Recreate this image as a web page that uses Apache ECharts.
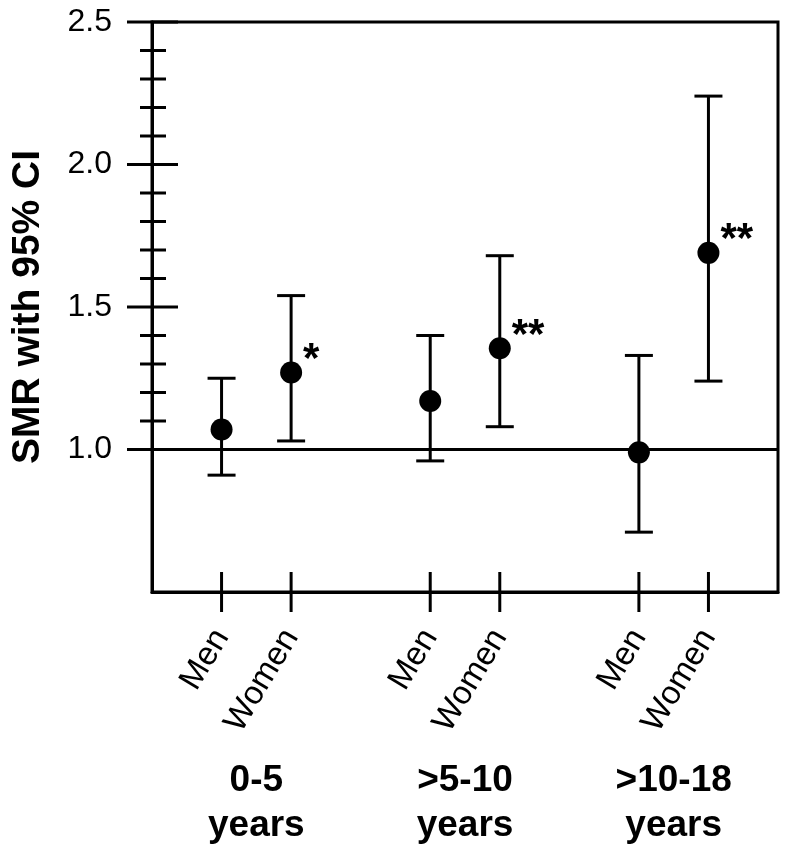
<!DOCTYPE html>
<html><head><meta charset="utf-8">
<script src="https://cdn.jsdelivr.net/npm/echarts@6/dist/echarts.min.js"></script>
<style>html,body{margin:0;padding:0;background:#fff}#c{width:790px;height:850px}</style>
</head><body><div id="c"></div>
<script>
// ---- data ----
const subgroupLabels = ['Men', 'Women', 'Men', 'Women', 'Men', 'Women'];
const xPositions = [1, 2, 4, 5, 7, 8];
const groupLabels = ['0-5\nyears', '>5-10\nyears', '>10-18\nyears'];
const groupCenters = [1.5, 4.5, 7.5];
const smr = [1.07, 1.27, 1.17, 1.355, 0.99, 1.69];
const ciLow = [0.91, 1.03, 0.96, 1.08, 0.71, 1.24];
const ciHigh = [1.25, 1.54, 1.40, 1.68, 1.33, 2.24];
const significance = ['', '*', '', '**', '', '**'];
const yTickLabels = ['1.0', '1.5', '2.0', '2.5'];
const yMajorTicks = [1.0, 1.5, 2.0, 2.5];
const yMinorTicks = [1.1, 1.2, 1.3, 1.4, 1.6, 1.7, 1.8, 1.9, 2.1, 2.2, 2.3, 2.4];
const referenceLine = 1.0;

const FONT = 'Liberation Sans, Arial, Helvetica, sans-serif';
const chart = echarts.init(document.getElementById('c'), null, {renderer: 'canvas'});

function tickSeries(data, x1, x2, y1, y2) {
  return {
    type: 'custom', silent: true, z: 5, clip: false,
    data: data,
    renderItem: function (params, api) {
      const p = api.coord([api.value(0), api.value(1)]);
      return {type: 'line', shape: {x1: p[0] + x1, y1: p[1] + y1, x2: p[0] + x2, y2: p[1] + y2},
        style: {stroke: '#000', lineWidth: 3}};
    }
  };
}

const option = {
  animation: false,
  backgroundColor: '#fff',
  grid: {left: 152, right: 12, top: 22, bottom: 258, containLabel: false, outerBoundsMode: 'none',
    show: true, borderColor: '#000', borderWidth: 3, backgroundColor: 'transparent'},
  xAxis: [{
    type: 'value', min: 0, max: 9, interval: 1,
    axisLine: {show: true, lineStyle: {color: '#000', width: 3}},
    axisTick: {show: false}, splitLine: {show: false},
    axisLabel: {
      show: true, rotate: 59, margin: 40, fontSize: 33, color: '#000', fontFamily: FONT,
      showMinLabel: true, showMaxLabel: true,
      formatter: function (v) { const i = xPositions.indexOf(v); return i >= 0 ? subgroupLabels[i] : ''; }
    }
  }, {
    type: 'value', min: 0, max: 9, interval: 1.5, position: 'bottom',
    axisLine: {show: false}, axisTick: {show: false}, splitLine: {show: false},
    axisLabel: {
      show: true, margin: 166, fontSize: 37, fontWeight: 'bold', lineHeight: 45, color: '#000', fontFamily: FONT,
      align: 'center',
      formatter: function (v) { const i = groupCenters.findIndex(c => Math.abs(c - v) < 1e-6); return i >= 0 ? groupLabels[i] : ''; }
    }
  }],
  yAxis: {
    type: 'value', min: 0.5, max: 2.5, interval: 0.5,
    axisLine: {show: true, lineStyle: {color: '#000', width: 3}},
    axisTick: {show: false}, splitLine: {show: false},
    axisLabel: {
      margin: 40, fontSize: 32, color: '#000', fontFamily: FONT,
      formatter: function (v) { const i = yMajorTicks.findIndex(t => Math.abs(t - v) < 1e-6); return i >= 0 ? yTickLabels[i] : ''; }
    },
    name: 'SMR with 95% CI', nameLocation: 'middle', nameGap: 104, nameRotate: 90,
    nameTextStyle: {fontSize: 39, fontWeight: 'bold', color: '#000', fontFamily: FONT}
  },
  series: [
    tickSeries(yMajorTicks.map(v => [0, v]), -25, 26, 0, 0),
    tickSeries(yMinorTicks.map(v => [0, v]), -12, 14, 0, 0),
    tickSeries(xPositions.map(x => [x, 0.5]), 0, 0, -20, 20),
    {
      type: 'custom', z: 6, clip: false,
      data: xPositions.map((x, i) => [x, ciLow[i], ciHigh[i]]),
      renderItem: function (params, api) {
        const lo = api.coord([api.value(0), api.value(1)]);
        const hi = api.coord([api.value(0), api.value(2)]);
        const w = 14;
        const st = {stroke: '#000', lineWidth: 3};
        return {type: 'group', children: [
          {type: 'line', shape: {x1: lo[0], y1: lo[1], x2: hi[0], y2: hi[1]}, style: st},
          {type: 'line', shape: {x1: hi[0] - w, y1: hi[1], x2: hi[0] + w, y2: hi[1]}, style: st},
          {type: 'line', shape: {x1: lo[0] - w, y1: lo[1], x2: lo[0] + w, y2: lo[1]}, style: st}
        ]};
      },
      markLine: {
        silent: true, symbol: ['none', 'none'], label: {show: false},
        lineStyle: {color: '#000', width: 3, type: 'solid', opacity: 1},
        data: [{yAxis: referenceLine}]
      }
    },
    {
      type: 'scatter', z: 7, symbol: 'circle', symbolSize: 22,
      itemStyle: {color: '#000', opacity: 1},
      data: xPositions.map((x, i) => [x, smr[i]])
    },
    {
      type: 'custom', z: 8, clip: false,
      data: xPositions.map((x, i) => [x, smr[i], i]),
      renderItem: function (params, api) {
        const p = api.coord([api.value(0), api.value(1)]);
        const txt = significance[api.value(2)];
        return {type: 'text', x: p[0] + 12, y: p[1] - 12,
          style: {text: txt, fill: '#000', fontSize: 42, fontWeight: 'bold', fontFamily: FONT, align: 'left', verticalAlign: 'middle'}};
      }
    }
  ]
};
chart.setOption(option);
</script>
</body></html>
